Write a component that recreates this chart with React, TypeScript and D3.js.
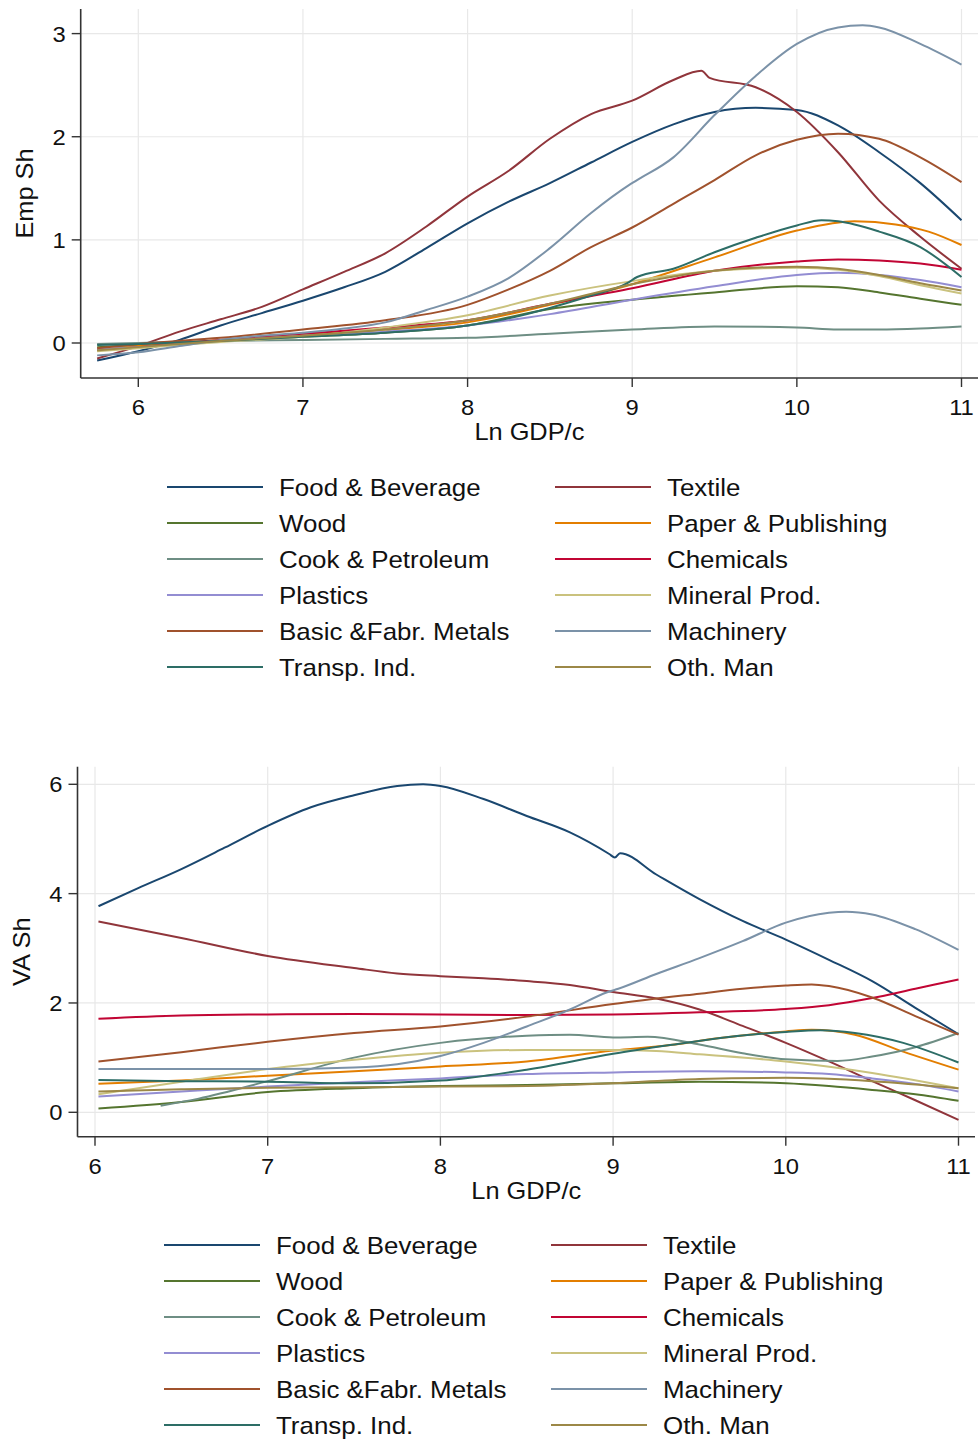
import React from "react";
import * as d3 from "d3";

type Pt = [number, number];

const SERIES_NAMES = [
  "Food & Beverage", "Textile", "Wood", "Paper & Publishing", "Cook & Petroleum", "Chemicals",
  "Plastics", "Mineral Prod.", "Basic &Fabr. Metals", "Machinery", "Transp. Ind.", "Oth. Man",
];
const COLORS = [
  "#1a476f", "#90353b", "#55752f", "#e37e00", "#6e8e84", "#c10534",
  "#938dd2", "#cac27e", "#a0522d", "#7b92a8", "#2d6d66", "#9c8847",
];

const X_TICKS = [6, 7, 8, 9, 10, 11];
const EMP_Y_TICKS = [0, 1, 2, 3];
const VA_Y_TICKS = [0, 2, 4, 6];

// ---- Employment share (top panel) ----
const empFood: Pt[] = [[5.75,-0.17],[6,-0.08],[6.25,0.03],[6.5,0.17],[6.75,0.29],[7,0.41],[7.25,0.54],[7.5,0.69],[7.75,0.92],[8,1.16],[8.25,1.37],[8.5,1.55],[8.75,1.75],[9,1.95],[9.25,2.12],[9.5,2.24],[9.75,2.28],[10,2.26],[10.25,2.11],[10.5,1.85],[10.75,1.55],[11,1.19]];
const empTextile: Pt[] = [[5.75,-0.15],[6,-0.03],[6.25,0.11],[6.5,0.23],[6.75,0.35],[7,0.52],[7.25,0.69],[7.5,0.87],[7.75,1.13],[8,1.42],[8.25,1.67],[8.5,1.98],[8.75,2.22],[9,2.35],[9.25,2.55],[9.42,2.64],[9.47,2.57],[9.75,2.48],[10,2.24],[10.25,1.85],[10.5,1.38],[10.75,1.03],[11,0.72]];
const empWood: Pt[] = [[5.75,-0.04],[6,-0.02],[6.5,0.02],[7,0.06],[7.5,0.1],[8,0.17],[8.5,0.33],[9,0.42],[9.5,0.49],[10,0.55],[10.25,0.54],[10.5,0.49],[10.75,0.43],[11,0.37]];
const empPaper: Pt[] = [[5.75,-0.07],[6,-0.03],[6.5,0.03],[7,0.08],[7.5,0.13],[8,0.2],[8.5,0.37],[9,0.57],[9.5,0.83],[10,1.09],[10.35,1.18],[10.6,1.15],[10.8,1.08],[11,0.95]];
const empCook: Pt[] = [[5.75,-0.01],[6,0.0],[6.5,0.02],[7,0.03],[7.5,0.04],[8,0.05],[8.5,0.09],[9,0.13],[9.5,0.16],[10,0.15],[10.25,0.13],[10.5,0.13],[10.75,0.14],[11,0.16]];
const empChem: Pt[] = [[5.75,-0.07],[6,-0.04],[6.5,0.03],[7,0.09],[7.5,0.15],[8,0.22],[8.5,0.38],[9,0.53],[9.5,0.7],[10,0.79],[10.25,0.81],[10.5,0.8],[10.75,0.77],[11,0.71]];
const empPlastics: Pt[] = [[5.75,-0.06],[6,-0.04],[6.5,0.02],[7,0.07],[7.5,0.11],[8,0.17],[8.5,0.28],[9,0.42],[9.5,0.55],[10,0.66],[10.25,0.68],[10.5,0.66],[10.75,0.61],[11,0.54]];
const empMineral: Pt[] = [[5.75,-0.08],[6,-0.05],[6.5,0.01],[7,0.06],[7.5,0.15],[8,0.27],[8.5,0.46],[9,0.6],[9.5,0.7],[10,0.73],[10.25,0.71],[10.5,0.65],[10.75,0.56],[11,0.48]];
const empMetals: Pt[] = [[5.75,-0.05],[6,-0.01],[6.5,0.05],[7,0.13],[7.5,0.22],[8,0.37],[8.25,0.52],[8.5,0.7],[8.75,0.93],[9,1.12],[9.25,1.35],[9.5,1.58],[9.75,1.82],[10,1.97],[10.25,2.03],[10.5,1.98],[10.75,1.8],[11,1.56]];
const empMachinery: Pt[] = [[5.75,-0.12],[6,-0.09],[6.25,-0.03],[6.5,0.03],[6.75,0.07],[7,0.1],[7.25,0.14],[7.5,0.2],[7.75,0.32],[8,0.45],[8.25,0.63],[8.5,0.92],[8.75,1.26],[8.98,1.53],[9.02,1.57],[9.25,1.8],[9.5,2.21],[9.75,2.59],[10,2.9],[10.25,3.06],[10.4,3.08],[10.5,3.06],[10.75,2.9],[11,2.7]];
const empTransp: Pt[] = [[5.75,-0.02],[6,-0.01],[6.5,0.02],[7,0.06],[7.5,0.1],[8,0.17],[8.25,0.24],[8.5,0.34],[8.75,0.46],[8.97,0.58],[9.03,0.64],[9.25,0.72],[9.5,0.88],[9.75,1.02],[10,1.14],[10.15,1.19],[10.25,1.18],[10.5,1.08],[10.75,0.93],[11,0.64]];
const empOther: Pt[] = [[5.75,-0.07],[6,-0.04],[6.5,0.02],[7,0.07],[7.5,0.13],[8,0.22],[8.5,0.38],[9,0.57],[9.5,0.7],[10,0.74],[10.25,0.72],[10.5,0.66],[10.75,0.58],[11,0.51]];

// ---- Value-added share (bottom panel) ----
const vaFood: Pt[] = [[6.02,3.77],[6.25,4.1],[6.5,4.45],[6.75,4.84],[7,5.24],[7.25,5.58],[7.5,5.8],[7.75,5.97],[7.9,6.0],[8,5.97],[8.25,5.73],[8.5,5.42],[8.75,5.12],[8.98,4.72],[9.01,4.66],[9.04,4.74],[9.25,4.35],[9.5,3.9],[9.75,3.5],[10,3.16],[10.25,2.79],[10.5,2.4],[10.75,1.91],[11,1.43]];
const vaTextile: Pt[] = [[6.02,3.49],[6.5,3.19],[7,2.86],[7.5,2.64],[7.75,2.54],[8,2.49],[8.25,2.45],[8.5,2.4],[8.75,2.33],[9,2.2],[9.25,2.08],[9.5,1.88],[9.75,1.58],[10,1.27],[10.25,0.93],[10.5,0.57],[10.75,0.22],[11,-0.14]];
const vaWood: Pt[] = [[6.02,0.07],[6.5,0.19],[7,0.37],[7.5,0.44],[8,0.48],[8.5,0.5],[9,0.53],[9.5,0.56],[10,0.53],[10.25,0.48],[10.5,0.41],[10.75,0.33],[11,0.21]];
const vaPaper: Pt[] = [[6.02,0.52],[6.5,0.58],[7,0.67],[7.5,0.75],[8,0.84],[8.5,0.93],[9,1.13],[9.33,1.23],[9.62,1.36],[10,1.48],[10.15,1.51],[10.4,1.42],[10.68,1.11],[11,0.78]];
const vaCook: Pt[] = [[6.38,0.12],[6.6,0.25],[7,0.57],[7.5,1.0],[8,1.27],[8.5,1.4],[8.75,1.42],[9,1.37],[9.2,1.38],[9.5,1.24],[9.75,1.08],[10,0.97],[10.3,0.94],[10.5,1.02],[10.75,1.19],[11,1.45]];
const vaChem: Pt[] = [[6.02,1.71],[6.5,1.77],[7,1.79],[7.5,1.8],[8,1.79],[8.5,1.78],[9,1.79],[9.5,1.83],[10,1.89],[10.25,1.96],[10.5,2.09],[10.75,2.26],[11,2.43]];
const vaPlastics: Pt[] = [[6.02,0.29],[6.5,0.38],[7,0.47],[7.5,0.55],[8,0.62],[8.5,0.7],[9,0.73],[9.5,0.75],[10,0.73],[10.25,0.7],[10.5,0.62],[10.75,0.52],[11,0.38]];
const vaMineral: Pt[] = [[6.02,0.33],[6.5,0.56],[7,0.79],[7.5,0.96],[8,1.09],[8.5,1.14],[9,1.14],[9.25,1.12],[9.5,1.06],[10,0.93],[10.5,0.72],[11,0.44]];
const vaMetals: Pt[] = [[6.02,0.93],[6.5,1.1],[7,1.29],[7.5,1.45],[8,1.57],[8.5,1.75],[9,1.98],[9.5,2.17],[9.75,2.26],[10,2.32],[10.15,2.34],[10.25,2.31],[10.5,2.1],[10.75,1.76],[11,1.42]];
const vaMachinery: Pt[] = [[6.02,0.79],[6.5,0.79],[7,0.79],[7.5,0.82],[7.75,0.88],[8,1.03],[8.25,1.27],[8.5,1.57],[8.75,1.88],[8.97,2.2],[9.03,2.26],[9.25,2.53],[9.5,2.82],[9.75,3.13],[10,3.47],[10.25,3.65],[10.35,3.67],[10.5,3.62],[10.75,3.35],[11,2.97]];
const vaTransp: Pt[] = [[6.02,0.59],[6.5,0.57],[7,0.56],[7.5,0.53],[8,0.58],[8.5,0.78],[9,1.07],[9.33,1.23],[9.62,1.36],[10,1.47],[10.2,1.5],[10.4,1.45],[10.68,1.27],[11,0.91]];
const vaOther: Pt[] = [[6.02,0.38],[6.5,0.42],[7,0.45],[7.5,0.46],[8,0.47],[8.5,0.48],[9,0.53],[9.5,0.61],[10,0.63],[10.5,0.57],[11,0.44]];

const EMP_SERIES = [empFood, empTextile, empWood, empPaper, empCook, empChem, empPlastics, empMineral, empMetals, empMachinery, empTransp, empOther];
const VA_SERIES = [vaFood, vaTextile, vaWood, vaPaper, vaCook, vaChem, vaPlastics, vaMineral, vaMetals, vaMachinery, vaTransp, vaOther];

const FONT = "'Liberation Sans', Arial, sans-serif";
const STRETCH = 1.08;

function T(props: { x: number; y: number; size: number; anchor?: string; rotate?: boolean; children: React.ReactNode }) {
  const tf = props.rotate
    ? `translate(${props.x},${props.y}) rotate(-90) scale(${STRETCH},1)`
    : `translate(${props.x},${props.y}) scale(${STRETCH},1)`;
  return (
    <text transform={tf} dy="0.36em" textAnchor={props.anchor || "start"} fontSize={props.size} fontFamily={FONT} fill="#111">
      {props.children}
    </text>
  );
}

type PanelProps = {
  series: Pt[][];
  frame: { x0: number; x1: number; y0: number; y1: number };
  xRange: [number, number];
  yDomain: [number, number];
  yRange: [number, number];
  yTicks: number[];
  yTitle: string;
  yTitleX: number;
  legendTop: number;
  legendX: [number, number];
};

function Panel(p: PanelProps) {
  const x = d3.scaleLinear().domain([6, 11]).range(p.xRange);
  const y = d3.scaleLinear().domain(p.yDomain).range(p.yRange);
  const line = d3.line<Pt>().x((d) => x(d[0])).y((d) => y(d[1])).curve(d3.curveMonotoneX);
  const { x0, x1, y0, y1 } = p.frame;
  const midX = (x0 + x1) / 2;
  const midY = (y0 + y1) / 2;
  return (
    <g>
      {p.yTicks.map((t) => (
        <line key={"gy" + t} x1={x0} x2={x1} y1={y(t)} y2={y(t)} stroke="#e8e8e8" strokeWidth={1.2} />
      ))}
      {X_TICKS.map((t) => (
        <line key={"gx" + t} x1={x(t)} x2={x(t)} y1={y0} y2={y1} stroke="#e8e8e8" strokeWidth={1.2} />
      ))}
      {p.series.map((s, i) => (
        <path key={i} d={line(s) || ""} fill="none" stroke={COLORS[i]} strokeWidth={2} strokeLinejoin="round" />
      ))}
      <line x1={x0} x2={x0} y1={y0} y2={y1} stroke="#333" strokeWidth={1.6} />
      <line x1={x0} x2={x1} y1={y1} y2={y1} stroke="#333" strokeWidth={1.6} />
      {p.yTicks.map((t) => (
        <g key={"ty" + t}>
          <line x1={x0 - 9} x2={x0} y1={y(t)} y2={y(t)} stroke="#333" strokeWidth={1.4} />
          <T x={x0 - 15} y={y(t)} size={22} anchor="end">{t}</T>
        </g>
      ))}
      {X_TICKS.map((t) => (
        <g key={"tx" + t}>
          <line x1={x(t)} x2={x(t)} y1={y1} y2={y1 + 9} stroke="#333" strokeWidth={1.4} />
          <T x={x(t)} y={y1 + 29} size={22} anchor="middle">{t}</T>
        </g>
      ))}
      <T x={midX} y={y1 + 54} size={23.5} anchor="middle">Ln GDP/c</T>
      <T x={p.yTitleX} y={midY} size={23.5} anchor="middle" rotate>{p.yTitle}</T>
      {SERIES_NAMES.map((name, i) => {
        const col = i % 2;
        const row = Math.floor(i / 2);
        const lx = p.legendX[col];
        const ly = p.legendTop + row * 36;
        return (
          <g key={"lg" + i}>
            <line x1={lx} x2={lx + 96} y1={ly} y2={ly} stroke={COLORS[i]} strokeWidth={2} />
            <T x={lx + 112} y={ly} size={24}>{name}</T>
          </g>
        );
      })}
    </g>
  );
}

export default function App() {
  return (
    <svg width={979} height={1442} style={{ position: "absolute", left: 0, top: 0, background: "#fff" }}>
      <rect x={0} y={0} width={979} height={1442} fill="#fff" />
      <Panel
        series={EMP_SERIES}
        frame={{ x0: 80.7, x1: 978, y0: 9, y1: 378 }}
        xRange={[138.3, 961.5]}
        yDomain={[0, 3]}
        yRange={[343, 33.6]}
        yTicks={EMP_Y_TICKS}
        yTitle="Emp Sh"
        yTitleX={25}
        legendTop={487}
        legendX={[167, 555]}
      />
      <Panel
        series={VA_SERIES}
        frame={{ x0: 77.5, x1: 975, y0: 766.7, y1: 1136.7 }}
        xRange={[95, 958.5]}
        yDomain={[0, 6]}
        yRange={[1112.3, 784.3]}
        yTicks={VA_Y_TICKS}
        yTitle="VA Sh"
        yTitleX={22}
        legendTop={1245}
        legendX={[164, 551]}
      />
    </svg>
  );
}
